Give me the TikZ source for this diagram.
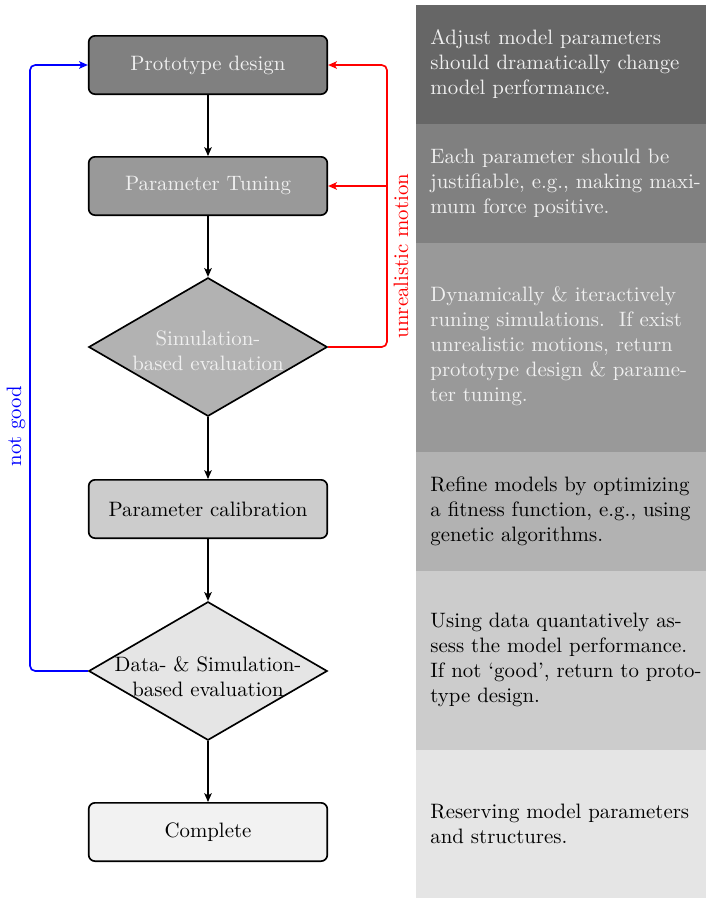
\documentclass[tikz,border=0pt]{standalone}
\usetikzlibrary{shapes.geometric,arrows.meta}
\begin{document}
\begin{tikzpicture}[x=0.48pt,y=-0.48pt,
  flowbox/.style={draw=black,thick,rounded corners=3pt,minimum width=114.5pt,minimum height=28pt,inner sep=0pt},
  flowdia/.style={draw=black,thick,diamond,minimum width=114.5pt,minimum height=66.5pt,inner sep=0pt},
  lighttext/.style={text=black!6},
  tip/.style={-{Stealth[length=4.2pt,width=3.6pt,inset=1pt]}},
  flowarrow/.style={thick,tip},
  loopline/.style={thick,rounded corners=2.5pt},
  bandtext/.style={anchor=west,align=left,text width=135pt,inner sep=0pt},
  sidelabel/.style={rotate=90,inner sep=0pt}]
\useasboundingbox (0,0) rectangle (706,898);
% right panel bands
\fill[black!60] (416,5) rectangle (706,124);
\fill[black!50] (416,124) rectangle (706,243);
\fill[black!40] (416,243) rectangle (706,452);
\fill[black!30] (416,452) rectangle (706,571);
\fill[black!20] (416,571) rectangle (706,750);
\fill[black!10] (416,750) rectangle (706,898);
\node[bandtext,lighttext] (t1) at (430,64.5) {Adjust model parameters\\should dramatically change\\model performance.};
\node[bandtext,lighttext] (t2) at (430,183.5) {Each parameter should be\\justifiable, e.g., making maxi-\\mum force positive.};
\node[bandtext,lighttext] (t3) at (430,346) {Dynamically \& iteractively\\runing simulations.\ \ If exist\\unrealistic motions, return\\prototype design \& parame-\\ter tuning.};
\node[bandtext] (t4) at (430,511) {Refine models by optimizing\\a fitness function, e.g., using\\genetic algorithms.};
\node[bandtext] (t5) at (430,660) {Using data quantatively as-\\sess the model performance.\\If not `good', return to proto-\\type design.};
\node[bandtext] (t6) at (430,824) {Reserving model parameters\\and structures.};
% flowchart
\node[flowbox,fill=black!50,lighttext] (proto) at (208,65) {Prototype design};
\node[flowbox,fill=black!40,lighttext] (tune) at (208,186) {Parameter Tuning};
\node[flowdia,fill=black!30,label={[lighttext,align=center,yshift=-2pt]center:Simulation-\\based evaluation}] (sim) at (208,347) {};
\node[flowbox,fill=black!20] (calib) at (208,509) {Parameter calibration};
\node[flowdia,fill=black!10,label={[align=center,yshift=-2.5pt]center:Data- \& Simulation-\\based evaluation}] (data) at (208,671) {};
\node[flowbox,fill=black!5] (done) at (208,832) {Complete};
\draw[flowarrow] (proto) -- (tune);
\draw[flowarrow] (tune) -- (sim);
\draw[flowarrow] (sim) -- (calib);
\draw[flowarrow] (calib) -- (data);
\draw[flowarrow] (data) -- (done);
% red loop
\coordinate (rb) at (387,347);
\coordinate (rt) at (387,65);
\coordinate (rm) at (387,186);
\draw[loopline,red,tip] (sim.east) -- (rb) -- (rt) -- (proto.east);
\draw[thick,red,tip] (rm) -- (tune.east);
\node[sidelabel,red] (unreal) at (401,256) {unrealistic motion};
% blue loop
\coordinate (bb) at (30,671);
\coordinate (bt) at (30,65);
\draw[loopline,blue,tip] (data.west) -- (bb) -- (bt) -- (proto.west);
\node[sidelabel,blue] (notgood) at (16,426) {not good};
\end{tikzpicture}
\end{document}
